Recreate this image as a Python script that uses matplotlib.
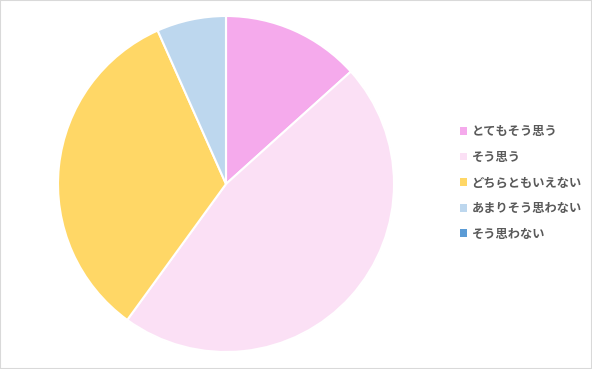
import matplotlib.pyplot as plt
from matplotlib.patches import Patch, Rectangle

plt.rcParams['font.family'] = ['Noto Sans CJK JP', 'DejaVu Sans']

labels = ['とてもそう思う', 'そう思う', 'どちらともいえない', 'あまりそう思わない', 'そう思わない']
counts = [2, 7, 5, 1, 0]
colors = ['#F5AAEC', '#FBE0F5', '#FFD766', '#BDD7EE', '#5B9BD5']

W, H = 592, 369
fig = plt.figure(figsize=(W / 100, H / 100), dpi=100)

# pie centre ~ (226,184) px, radius ~168 px
cx, cy, r = 226, 184, 168
ax = fig.add_axes([(cx - r) / W, (H - cy - r) / H, 2 * r / W, 2 * r / H])
ax.pie(counts, colors=colors, startangle=90, counterclock=False,
       wedgeprops={'edgecolor': 'white', 'linewidth': 1.5})
ax.set_aspect('equal')
ax.set_xlim(-1, 1)
ax.set_ylim(-1, 1)

handles = [Patch(facecolor=c, edgecolor='none') for c in colors]
fig.legend(handles, labels, loc='center left',
           bbox_to_anchor=(455 / W, 1 - 183 / H),
           frameon=False, prop={'size': 8.8, 'weight': 'bold'}, labelcolor='#595959',
           handlelength=0.6, handleheight=0.6, handletextpad=0.35,
           labelspacing=1.03, borderaxespad=0)

# thin grey frame around the chart area
fig.patches.append(Rectangle((0, 0), 1, 1, transform=fig.transFigure,
                             fill=False, edgecolor='#D9D9D9', linewidth=1.5))

fig.savefig('out.png', dpi=100)
